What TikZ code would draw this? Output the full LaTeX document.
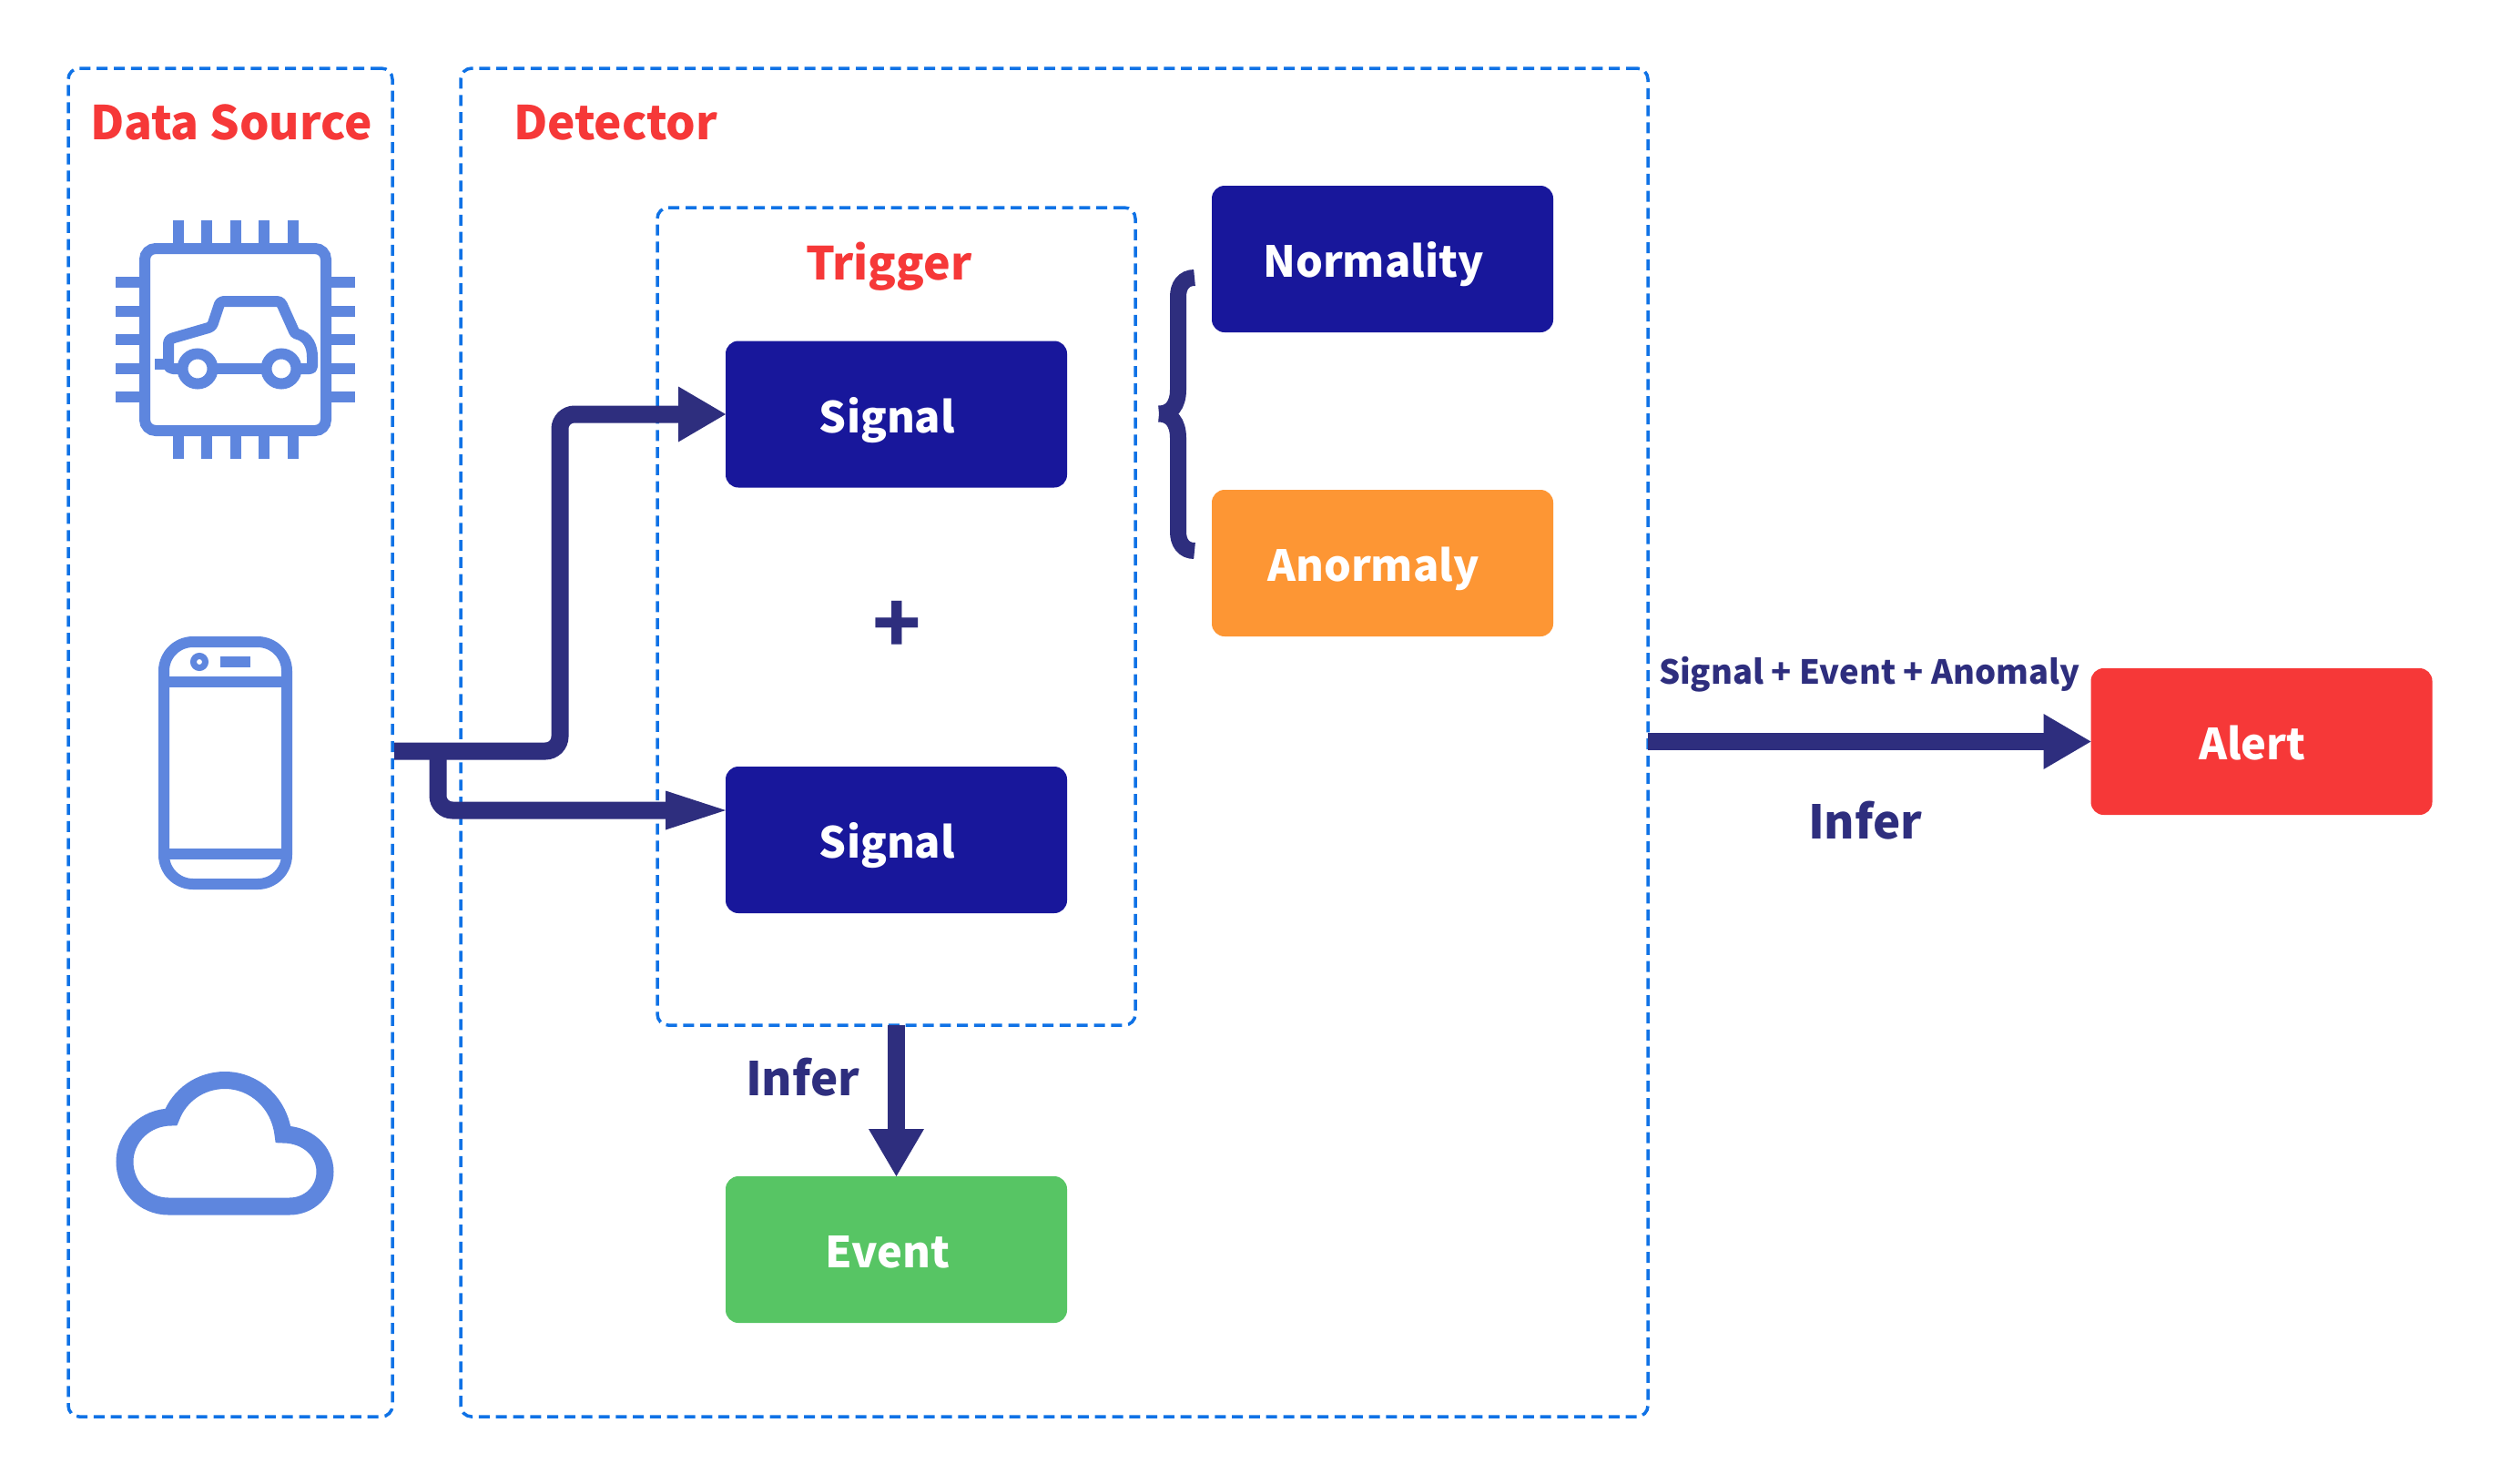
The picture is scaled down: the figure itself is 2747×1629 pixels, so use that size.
\documentclass[tikz,border=0pt]{standalone}
\usepackage{fontspec}
\setmainfont{Noto Sans CJK SC}[BoldFont={Noto Sans CJK SC Bold}]
\newfontface\heavy{Noto Sans CJK SC Black}
\usetikzlibrary{arrows.meta,calc}
\definecolor{dashblue}{HTML}{0F72E6}
\definecolor{iconblue}{HTML}{5E86DE}
\definecolor{arrownavy}{HTML}{2E2E7E}
\definecolor{boxnavy}{HTML}{18179B}
\definecolor{boxorange}{HTML}{FD9634}
\definecolor{boxred}{HTML}{F63838}
\definecolor{boxgreen}{HTML}{57C564}
\newcommand{\boxlabel}[1]{\makebox[0pt]{\hspace*{-10pt}\raisebox{-10pt}[0pt][0pt]{#1}}}
\tikzset{
  dashbox/.style={draw=dashblue,line width=1.75pt,dash pattern=on 6pt off 3.4pt,rounded corners=6pt,inner sep=0pt,outer sep=0pt},
  colorbox/.style={rounded corners=7pt,minimum width=187.5pt,minimum height=80.5pt,inner sep=0pt,outer sep=0pt,text=white,font=\heavy\fontsize{23.5pt}{30pt}\selectfont},
  heading/.style={anchor=base west,inner sep=0pt,outer sep=0pt,text=boxred,font=\heavy\fontsize{25.6pt}{30pt}\selectfont},
  navylabel/.style={anchor=base west,inner sep=0pt,outer sep=0pt,text=arrownavy,font=\heavy\fontsize{25.5pt}{30pt}\selectfont},
  flow/.style={draw=arrownavy,line width=9.5pt,rounded corners=8pt},
  bighead/.style={-{Triangle[length=26pt,width=30.5pt,fill=arrownavy,line width=0pt]}},
  smallhead/.style={-{Triangle[length=33pt,width=21.5pt,fill=arrownavy,line width=0pt]}},
  icon/.style={draw=iconblue,line width=6pt},
  pin/.style={draw=iconblue,line width=6pt},
}
\begin{document}
\begin{tikzpicture}[x=0.5pt,y=-0.5pt]
\useasboundingbox[fill=white] (0,0) rectangle (2747,1629);

% dashed containers
\node[dashbox,minimum width=178pt,minimum height=740.5pt] (ds) at (253,815.5) {};
\node[dashbox,minimum width=652pt,minimum height=740.5pt] (det) at (1158,815.5) {};
\node[dashbox,minimum width=262.5pt,minimum height=449pt] (trig) at (984.5,677) {};

% headings
\node[heading] (dstitle) at (99,153) {Data Source};
\node[heading] (dettitle) at (564,153) {Detector};
\node[heading,font=\heavy\fontsize{25pt}{30pt}\selectfont] (trigtitle) at (885,307) {Trigger};

% boxes
\node[colorbox,fill=boxnavy] (sig1) at (984.5,455) {\boxlabel{Signal}};
\node[colorbox,fill=boxnavy] (sig2) at (984.5,922.5) {\boxlabel{Signal}};
\node[colorbox,fill=boxnavy] (norm) at (1518.5,284.5) {\boxlabel{Normality}};
\node[colorbox,fill=boxorange] (anom) at (1518.5,618.5) {\boxlabel{Anormaly}};
\node[colorbox,fill=boxgreen] (event) at (984.5,1372.5) {\boxlabel{Event}};
\node[colorbox,fill=boxred] (alert) at (2484,814.5) {\boxlabel{Alert}};

% plus sign
\node[inner sep=0pt,text=arrownavy,font=\heavy\fontsize{44pt}{50pt}\selectfont] (plus) at (985,689) {+};

% navy labels
\node[navylabel] (infer1) at (819,1203) {Infer};
\node[navylabel] (infer2) at (1986,921) {Infer};
\node[navylabel,font=\heavy\fontsize{18.2pt}{22pt}\selectfont] (sea) at (1822,751) {Signal + Event + Anomaly};

% connectors
\coordinate (src) at (433,825);
\coordinate (j1) at (615,825);
\coordinate (j2) at (481,825);
\coordinate (s2in) at (797,890);
\coordinate (detout) at (1810,814.5);
\draw[flow,bighead] (src) -- (j1) -- (j1 |- sig1.west) -- (sig1.west);
\draw[flow,smallhead] (j2) -- (j2 |- s2in) -- (s2in);
\draw[flow,bighead] (trig.south) -- (event.north);
\draw[flow,bighead] (detout) -- (alert.west);

% brace
\draw[draw=arrownavy,line width=9pt]
  (1312,305) .. controls (1300,305) and (1294,314) .. (1294,326) -- (1294,428)
  .. controls (1294,445) and (1286,454.5) .. (1273,454.5)
  (1273,454.5) .. controls (1286,454.5) and (1294,464) .. (1294,481) -- (1294,584)
  .. controls (1294,596) and (1300,605) .. (1312,605);

% chip icon
\draw[icon,rounded corners=6pt] (159,273) rectangle (358,473);
\foreach \px in {196,227,259,290,322}{
  \draw[pin] (\px,242) -- (\px,267);
  \draw[pin] (\px,479) -- (\px,504);
}
\foreach \py in {310,342,373,405,436}{
  \draw[pin] (127,\py) -- (153,\py);
  \draw[pin] (364,\py) -- (390,\py);
}
\draw[icon] (217,405) circle (16.5);
\draw[icon] (309,405) circle (16.5);
\draw[icon] (170,400) -- (186,400);
\draw[icon] (237,405) -- (289,405);
\draw[icon,line join=round] (197,405) -- (190,405) .. controls (187,405) and (185,403) .. (185,400) -- (185,378)
  .. controls (185,374) and (187,372) .. (191,371) -- (229,360)
  .. controls (232,359) and (233,358) .. (234,355) -- (241,334)
  .. controls (242,332) and (244,331) .. (246,331) -- (304,331)
  .. controls (307,331) and (309,332) .. (310,335) -- (323,364)
  .. controls (324,366) and (325,367) .. (327,367)
  .. controls (338,370) and (343,380) .. (343,392) -- (343,402)
  .. controls (343,404) and (342,405) .. (340,405) -- (329,405);

% phone icon
\draw[icon,rounded corners=16pt] (180,705) rectangle (315,971);
\draw[icon] (180,748.5) -- (315,748.5);
\draw[icon] (180,937.5) -- (315,937.5);
\draw[draw=iconblue,line width=3.5pt] (219,727) circle (6.5);
\fill[iconblue] (242,721) rectangle (275,733);

% cloud icon
\draw[icon,line width=9.5pt,line join=miter]
  (185,1325) .. controls (158,1325) and (137,1303) .. (137,1276)
  .. controls (137,1249) and (160,1227) .. (188,1227)
  .. controls (197,1203) and (220,1186.5) .. (247,1186.5)
  .. controls (280,1186.5) and (307,1212) .. (311,1246)
  .. controls (337,1246) and (357,1264) .. (357,1287)
  .. controls (357,1308) and (340,1325) .. (318,1325) -- cycle;
\end{tikzpicture}
\end{document}
